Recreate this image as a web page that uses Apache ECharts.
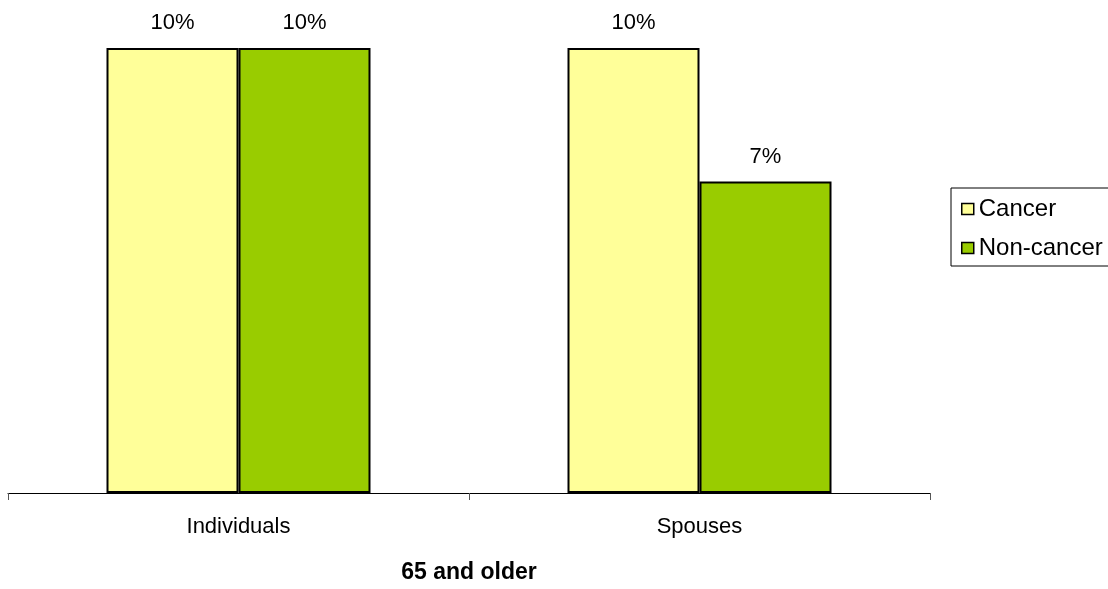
<!DOCTYPE html>
<html>
<head>
<meta charset="utf-8">
<script src="https://cdn.jsdelivr.net/npm/echarts@6/dist/echarts.min.js"></script>
<style>
  html, body { margin: 0; padding: 0; background: #fff; }
  #chart { width: 1108px; height: 589px; }
</style>
</head>
<body>
<div id="chart"></div>
<script>
// Share of each group, in percent
const categories = ['Individuals', 'Spouses'];
const cancer = [10, 10];
const nonCancer = [10, 7];
const axisTitle = '65 and older';

const FONT = '"Liberation Sans", Arial, sans-serif';

const chart = echarts.init(document.getElementById('chart'), null, { renderer: 'canvas' });

const barLabel = {
  show: true,
  position: 'top',
  distance: 14,
  formatter: '{c}%',
  color: '#000',
  fontFamily: FONT,
  fontSize: 22
};

chart.setOption({
  animation: false,
  backgroundColor: '#fff',
  grid: { left: 8, right: 178, top: 48, bottom: 92, containLabel: false },
  legend: {
    orient: 'vertical',
    left: 951,
    top: 188,
    padding: [9, 40, 6, 10],
    itemGap: 15,
    itemWidth: 12,
    itemHeight: 11,
    icon: 'rect',
    borderColor: '#000',
    borderWidth: 1,
    itemStyle: { borderColor: '#000', borderWidth: 1.5 },
    textStyle: {
      color: '#000',
      fontFamily: FONT,
      fontSize: 24,
      lineHeight: 24
    },
    data: ['Cancer', 'Non-cancer']
  },
  xAxis: {
    type: 'category',
    data: categories,
    boundaryGap: true,
    axisLine: { lineStyle: { color: '#000', width: 1 } },
    axisTick: { show: true, length: 7, lineStyle: { color: '#555' } },
    axisLabel: { color: '#000', fontFamily: FONT, fontSize: 22, margin: 23 },
    name: axisTitle,
    nameLocation: 'middle',
    nameGap: 68,
    nameTextStyle: { color: '#000', fontFamily: FONT, fontSize: 23, fontWeight: 'bold' }
  },
  yAxis: {
    type: 'value',
    min: 0,
    max: 10,
    show: false,
    splitLine: { show: false }
  },
  series: [
    {
      name: 'Cancer',
      type: 'bar',
      data: cancer,
      barWidth: 132,
      barGap: '0%',
      itemStyle: { color: '#FFFF99', borderColor: '#000', borderWidth: 2 },
      label: barLabel
    },
    {
      name: 'Non-cancer',
      type: 'bar',
      data: nonCancer,
      barWidth: 132,
      barGap: '0%',
      itemStyle: { color: '#99CC00', borderColor: '#000', borderWidth: 2 },
      label: barLabel
    }
  ]
});
</script>
</body>
</html>
